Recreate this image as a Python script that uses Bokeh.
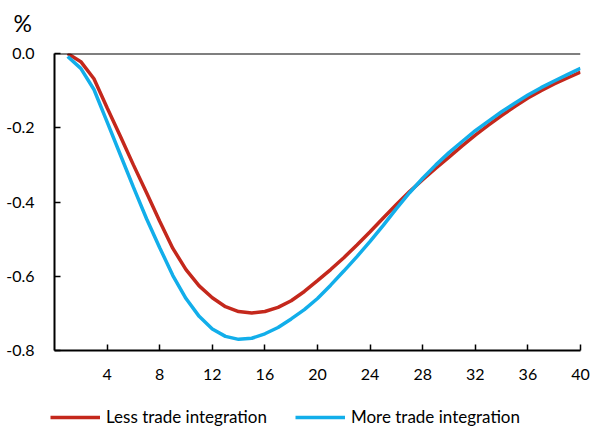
from bokeh.plotting import figure
from bokeh.layouts import column
from bokeh.models import (Range1d, FixedTicker, Span, Legend, LegendItem, Label)
from bokeh.embed import file_html
from bokeh.resources import INLINE

# Quarters after shock
quarters = list(range(1, 41))

less_trade = [0.000, -0.022, -0.068, -0.146, -0.222, -0.300, -0.375, -0.452, -0.525, -0.582,
              -0.626, -0.658, -0.682, -0.695, -0.699, -0.695, -0.684, -0.666, -0.641, -0.612,
              -0.582, -0.550, -0.516, -0.480, -0.443, -0.407, -0.372, -0.340, -0.309, -0.279,
              -0.249, -0.220, -0.193, -0.167, -0.143, -0.120, -0.100, -0.082, -0.066, -0.050]

more_trade = [-0.008, -0.040, -0.097, -0.184, -0.272, -0.360, -0.445, -0.523, -0.598, -0.660,
              -0.708, -0.742, -0.762, -0.770, -0.767, -0.755, -0.738, -0.715, -0.690, -0.660,
              -0.624, -0.586, -0.547, -0.506, -0.463, -0.418, -0.375, -0.336, -0.300, -0.267,
              -0.237, -0.208, -0.182, -0.157, -0.134, -0.112, -0.092, -0.074, -0.057, -0.040]

x_ticks = [4, 8, 12, 16, 20, 24, 28, 32, 36, 40]
y_ticks = [-0.8, -0.6, -0.4, -0.2, 0.0]
y_tick_labels = ["-0.8", "-0.6", "-0.4", "-0.2", "0.0"]
series_names = ["Less trade integration", "More trade integration"]
series_colors = ["#C4281C", "#12AEEA"]
unit_label = "%"

FONT = "Lato"
W = 590

# --- top strip with the unit label ---
p0 = figure(width=W, height=40, output_backend="svg", toolbar_location=None,
            x_axis_type=None, y_axis_type=None,
            x_range=Range1d(0, W), y_range=Range1d(0, 40), min_border=0)
p0.frame_align = False
p0.outline_line_color = None
p0.xgrid.visible = False
p0.ygrid.visible = False
p0.add_layout(Label(x=13, y=32, text=unit_label, text_font=FONT, text_font_size="23px",
                    text_baseline="top", text_align="left", text_color="black"))

# --- main chart ---
p = figure(width=W, height=360, output_backend="svg", toolbar_location=None,
           x_range=Range1d(0, 40), y_range=Range1d(-0.8, 0.0),
           min_border_left=54, min_border_right=10, min_border_top=13, min_border_bottom=50)
p.frame_align = False
p.outline_line_color = None
p.xgrid.visible = False
p.ygrid.visible = False

for ax in (p.xaxis[0], p.yaxis[0]):
    ax.axis_line_color = "black"
    ax.axis_line_width = 2
    ax.major_tick_line_color = "black"
    ax.major_tick_line_width = 1.5
    ax.major_tick_in = 6
    ax.major_tick_out = 0
    ax.minor_tick_line_color = None
    ax.major_label_text_font = FONT
    ax.major_label_text_font_size = "16px"
    ax.major_label_text_color = "black"

p.xaxis.ticker = FixedTicker(ticks=x_ticks)
p.xaxis.major_label_standoff = 18
p.yaxis.ticker = FixedTicker(ticks=y_ticks)
p.yaxis.major_label_overrides = {t: s for t, s in zip(y_ticks, y_tick_labels)}
p.yaxis.major_label_standoff = 20

p.add_layout(Span(location=0, dimension="width", line_color="black", line_width=2))

p.line(quarters, less_trade, line_color=series_colors[0], line_width=3.5)
p.line(quarters, more_trade, line_color=series_colors[1], line_width=3.5)

# --- legend strip ---
p2 = figure(width=W, height=34, output_backend="svg", toolbar_location=None,
            x_axis_type=None, y_axis_type=None,
            x_range=Range1d(1000, 1000 + W), y_range=Range1d(0, 34), min_border=0)
p2.frame_align = False
p2.outline_line_color = None
p2.xgrid.visible = False
p2.ygrid.visible = False
l1 = p2.line(quarters, less_trade, line_color=series_colors[0], line_width=3.5)
l2 = p2.line(quarters, more_trade, line_color=series_colors[1], line_width=3.5)
legend = Legend(items=[LegendItem(label=series_names[0], renderers=[l1]),
                       LegendItem(label=series_names[1], renderers=[l2])],
                orientation="horizontal", location=(50, 7),
                padding=0, margin=0, spacing=28, glyph_width=50, glyph_height=20,
                label_standoff=6, label_text_font=FONT, label_text_font_size="17px",
                label_text_color="black", label_height=20,
                border_line_color=None, background_fill_alpha=0)
p2.add_layout(legend, "center")

layout = column(p0, p, p2, spacing=0)
open("out.html", "w").write(file_html(layout, INLINE))
